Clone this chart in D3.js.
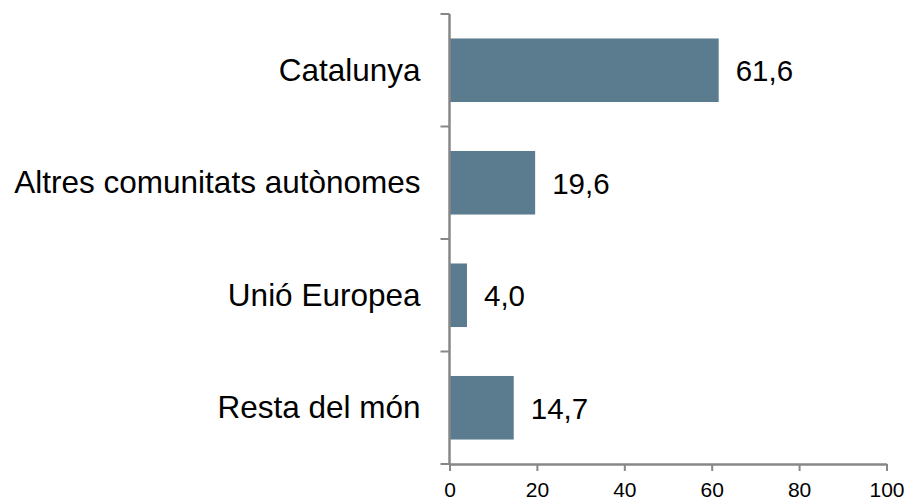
<!DOCTYPE html>
<html>
<head>
<meta charset="utf-8">
<script src="https://cdn.jsdelivr.net/npm/d3@7/dist/d3.min.js"></script>
<style>
html,body{margin:0;padding:0;background:#fff;}
svg{display:block;font-family:"Liberation Sans",Arial,sans-serif;}
</style>
</head>
<body>
<svg id="chart" width="908" height="502"></svg>
<script>
const categories = ["Catalunya", "Altres comunitats autònomes", "Unió Europea", "Resta del món"];
const values = [61.6, 19.6, 4.0, 14.7];
const xTicks = [0, 20, 40, 60, 80, 100];

const svg = d3.select("#chart");
const axisColor = "#878787";
const barColor = "#5b7c8f";

const x = d3.scaleLinear().domain([0, 100]).range([449.5, 886.5]);
const pi = 0.435;
const y = d3.scaleBand().domain(categories).range([14, 464]).paddingInner(pi).paddingOuter(pi / 2);

const fmt = v => v.toFixed(1).replace(".", ",");

// bars
svg.append("g").selectAll("rect").data(categories).join("rect")
  .attr("x", x(0))
  .attr("y", d => y(d))
  .attr("width", (d, i) => x(values[i]) - x(0))
  .attr("height", y.bandwidth())
  .attr("fill", barColor);

// value labels
svg.append("g").selectAll("text").data(categories).join("text")
  .attr("x", (d, i) => x(values[i]) + 17)
  .attr("y", d => y(d) + y.bandwidth() / 2)
  .attr("dy", "0.38em")
  .attr("font-size", 29.5)
  .attr("fill", "#000")
  .text((d, i) => fmt(values[i]));

// category labels
svg.append("g").selectAll("text").data(categories).join("text")
  .attr("x", 420.5)
  .attr("y", d => y(d) + y.bandwidth() / 2)
  .attr("dy", "0.34em")
  .attr("text-anchor", "end")
  .attr("font-size", 31.5)
  .attr("fill", "#000")
  .text(d => d);

// y axis line and ticks at band boundaries
const boundaries = categories.map(c => y(c) - y.paddingOuter() * y.step()).concat([y.range()[1]]);
const yAxis = svg.append("g");
yAxis.append("line")
  .attr("x1", x(0)).attr("x2", x(0))
  .attr("y1", y.range()[0]).attr("y2", y.range()[1])
  .attr("stroke", axisColor).attr("stroke-width", 2.5);
yAxis.selectAll("line.tick").data(boundaries).join("line")
  .attr("class", "tick")
  .attr("x1", x(0) - 9).attr("x2", x(0))
  .attr("y1", d => d).attr("y2", d => d)
  .attr("stroke", axisColor).attr("stroke-width", 2);

// x axis
const xAxis = d3.axisBottom(x).tickValues(xTicks).tickSize(7).tickSizeOuter(0).tickPadding(11).tickFormat(d3.format("d"));
const gx = svg.append("g").attr("transform", `translate(0,${y.range()[1]})`).call(xAxis);
gx.select(".domain").attr("stroke", axisColor).attr("stroke-width", 2.5);
gx.selectAll(".tick line").attr("stroke", axisColor).attr("stroke-width", 2);
gx.selectAll(".tick text").attr("font-size", 21).attr("fill", "#000")
  .attr("font-family", '"Liberation Sans",Arial,sans-serif');
</script>
</body>
</html>
